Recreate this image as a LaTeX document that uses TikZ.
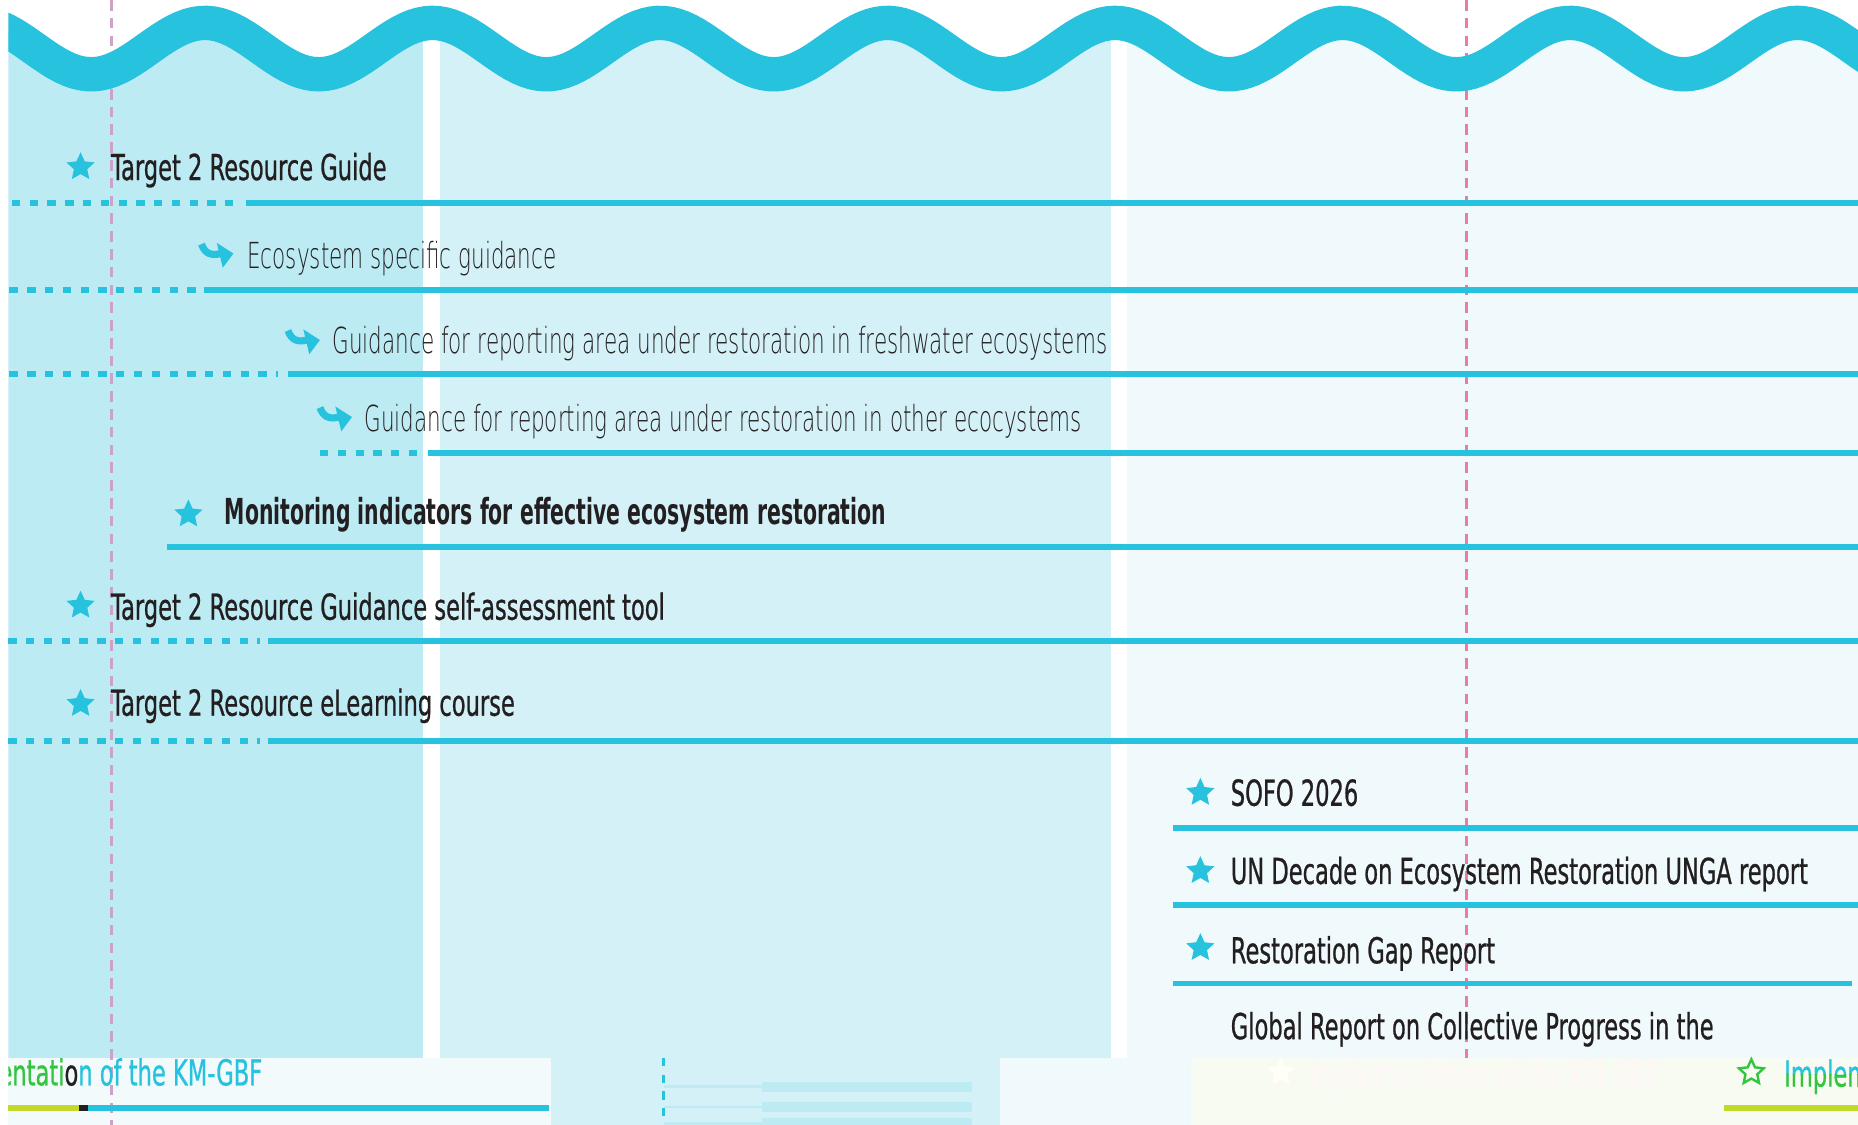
\documentclass[tikz,border=0pt]{standalone}
\usepackage{fontspec}
\setmainfont[FakeStretch=0.63, FakeBold=0.7, BoldFeatures={FakeStretch=0.57, FakeBold=0}]{DejaVu Sans}
\IfFontExistsTF{DejaVu Sans ExtraLight}
  {\newfontfamily\lightfont[FakeStretch=0.6]{DejaVu Sans ExtraLight}}
  {\newfontfamily\lightfont[FakeStretch=0.6]{DejaVu Sans}}
\usetikzlibrary{shapes.geometric}

\definecolor{kmcyan}{HTML}{27C2DE}
\definecolor{kmcolA}{HTML}{BDEBF3}
\definecolor{kmcolB}{HTML}{D3F1F7}
\definecolor{kmcolC}{HTML}{F0FAFC}
\definecolor{kmmist}{HTML}{F3FAFC}
\definecolor{kmhaze}{HTML}{F7FBF1}
\definecolor{kmpink}{HTML}{E87CA2}
\definecolor{kmmauve}{HTML}{CDA2C8}
\definecolor{kmink}{HTML}{231F20}
\definecolor{kmlime}{HTML}{C2D92A}
\definecolor{kmleaf}{HTML}{35C43F}

\tikzset{
  entry/.style={anchor=base west, inner sep=0pt, text=kmink, font=\fontsize{8.6}{10}\selectfont},
  subentry/.style={entry, font=\lightfont\fontsize{8.6}{10}\selectfont},
  starmark/.style={star, star points=5, star point ratio=2.1, fill=kmcyan, inner sep=0pt, minimum size=0.25cm},
  solidrule/.style={kmcyan, line width=0.05cm},
  dotrule/.style={solidrule, dash pattern=on 0.07cm off 0.08cm},
  yearline/.style={line width=0.025cm, dash pattern=on 0.09cm off 0.06cm},
}

\begin{document}
\begin{tikzpicture}[x=0.01cm, y=-0.01cm]
	\useasboundingbox[fill=white] (0,0) rectangle (1568,949);
	
	%Columns below the wave
	\begin{scope}
		\clip plot[variable=\t, domain=7:1568, samples=240] (\t, {41-21.7*cos(1.875*(\t-173))}) -- (1568,949) -- (7,949) -- cycle;
		\fill[kmcolA] (7,0) rectangle (357,893);
		\fill[kmcolB] (371,0) rectangle (938,893);
		\fill[kmcolC] (951,0) rectangle (1568,949);
	\end{scope}
	
	%Bottom strip
	\fill[kmmist] (7,893) rectangle (465,949);
	\fill[kmcolB] (465,893) rectangle (844,949);
	\fill[kmcolC] (844,893) rectangle (1005,949);
	\fill[kmhaze] (1005,893) rectangle (1568,949);
	\draw[kmcyan, line width=0.02cm, dash pattern=on 0.07cm off 0.07cm] (560,893) -- (560,949);
	\foreach \h in {917,934,948}{
		\draw[kmcolA, line width=0.02cm] (560,\h) -- (643,\h);
		\draw[kmcolA, line width=0.085cm] (643,\h) -- (820,\h);
	}
	
	%Year lines
	\draw[yearline, kmmauve] (94,0) -- (94,949);
	\draw[yearline, kmpink] (1238,0) -- (1238,893);
	
	%The wave
	\begin{scope}
		\clip (7,-20) rectangle (1568,120);
		\draw[kmcyan, line width=0.29cm] plot[variable=\t, domain=0:1580, samples=300] (\t, {41-21.7*cos(1.875*(\t-173))});
	\end{scope}
	
	%One row
	\def\y{171}
	\node[starmark] (S1) at (68,141) {};
	\node[entry] (T1) at (93,152) {Target 2 Resource Guide};
	\draw[dotrule] (10,\y) -- (197,\y);
	\draw[solidrule] (208,\y) -- (1568,\y);
	
	%One row
	\def\x{170}
	\def\y{245}
	\draw[kmcyan, line width=0.06cm] (\x,206) .. controls (\x+3,214) and (\x+8,216) .. (\x+16,214);
	\fill[kmcyan] (\x+13,205) -- (\x+27,214) -- (\x+18,226) -- cycle;
	\node[subentry] (T2) at (208,227) {Ecosystem specific guidance};
	\draw[dotrule] (8,\y) -- (167,\y);
	\draw[solidrule] (172,\y) -- (1568,\y);
	
	%One row
	\def\x{243}
	\def\y{316}
	\draw[kmcyan, line width=0.06cm] (\x,279) .. controls (\x+3,287) and (\x+8,289) .. (\x+16,287);
	\fill[kmcyan] (\x+13,278) -- (\x+27,287) -- (\x+18,299) -- cycle;
	\node[subentry] (T3) at (280,298) {Guidance for reporting area under restoration in freshwater ecosystems};
	\draw[dotrule] (8,\y) -- (235,\y);
	\draw[solidrule] (243,\y) -- (1568,\y);
	
	%One row
	\def\x{270}
	\def\y{382}
	\draw[kmcyan, line width=0.06cm] (\x,344) .. controls (\x+3,352) and (\x+8,354) .. (\x+16,352);
	\fill[kmcyan] (\x+13,343) -- (\x+27,352) -- (\x+18,364) -- cycle;
	\node[subentry] (T4) at (307,364) {Guidance for reporting area under restoration in other ecocystems};
	\draw[dotrule] (270,\y) -- (355,\y);
	\draw[solidrule] (361,\y) -- (1568,\y);
	
	%One row
	\def\y{462}
	\node[starmark] (S5) at (159,434) {};
	\node[entry, font=\bfseries\fontsize{8.6}{10}\selectfont] (T5) at (189,443) {Monitoring indicators for effective ecosystem restoration};
	\draw[solidrule] (141,\y) -- (1568,\y);
	
	%One row
	\def\y{541}
	\node[starmark] (S6) at (68,511) {};
	\node[entry] (T6) at (93,523) {Target 2 Resource Guidance self-assessment tool};
	\draw[dotrule] (7,\y) -- (219,\y);
	\draw[solidrule] (226,\y) -- (1568,\y);
	
	%One row
	\def\y{625}
	\node[starmark] (S7) at (68,594) {};
	\node[entry] (T7) at (93,604) {Target 2 Resource eLearning course};
	\draw[dotrule] (7,\y) -- (219,\y);
	\draw[solidrule] (226,\y) -- (1568,\y);
	
	%Right block
	\node[starmark] (S8) at (1013,669) {};
	\node[entry] (T8) at (1038,680) {SOFO 2026};
	\draw[solidrule] (990,699) -- (1568,699);
	
	\node[starmark] (S9) at (1013,735) {};
	\node[entry] (T9) at (1038,746) {UN Decade on Ecosystem Restoration UNGA report};
	\draw[solidrule] (990,764) -- (1568,764);
	
	\node[starmark] (S10) at (1013,800) {};
	\node[entry] (T10) at (1038,813) {Restoration Gap Report};
	\draw[solidrule] (990,830) -- (1563,830);
	
	\node[entry] (T11) at (1038,877) {Global Report on Collective Progress in the};
	
	%Cut pieces at the bottom
	\begin{scope}
		\clip (7,890) rectangle (1568,949);
		\node[entry, anchor=base east] (B1) at (222,916) {\textcolor{kmleaf}{Implementati}\textcolor{kmink}{o}\textcolor{kmcyan}{n of the KM-GBF}};
		\node[starmark, fill=kmhaze!60!yellow!8] (B2) at (1081,905) {};
		\node[entry, text=red!3] (B3) at (1105,917) {Implementation of the KM-GBF};
		\node[starmark, fill=none, draw=kmleaf, line width=0.02cm, minimum size=0.22cm] (B4) at (1478,905) {};
		\begin{scope}
			\clip (1500,890) rectangle (1568,907);
			\node[entry, text=kmcyan] (B5) at (1505,917) {Implementation};
		\end{scope}
		\begin{scope}
			\clip (1500,907) rectangle (1568,949);
			\node[entry, text=kmleaf] (B6) at (1505,917) {Implementation};
		\end{scope}
	\end{scope}
	\draw[kmlime, line width=0.05cm] (7,935) -- (67,935);
	\draw[kmink, line width=0.05cm] (67,935) -- (74,935);
	\draw[kmcyan, line width=0.05cm] (74,935) -- (463,935);
	\draw[kmlime, line width=0.05cm] (1455,935) -- (1568,935);
	
\end{tikzpicture}
\end{document}
